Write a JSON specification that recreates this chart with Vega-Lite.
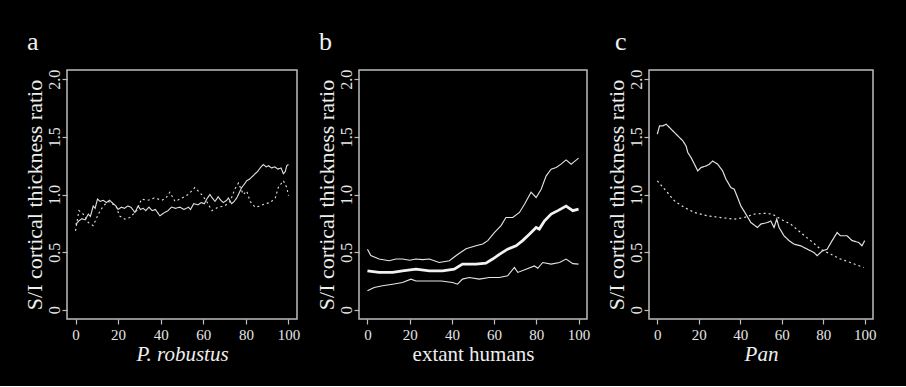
{
 "$schema": "https://vega.github.io/schema/vega-lite/v6.json",
 "background": "#000000",
 "padding": {"left": 22, "top": 28, "right": 31, "bottom": 21},
 "spacing": 62,
 "bounds": "flush",
 "config": {
  "view": {"stroke": "#bdbdbd", "strokeWidth": 1.5},
  "font": "Liberation Serif",
  "axis": {"grid": false, "domain": false, "ticks": true, "tickSize": 5, "tickColor": "#bdbdbd", "tickWidth": 1.2, "labelColor": "#e6e6e6", "titleColor": "#eeeeee", "labelFont": "Liberation Serif", "titleFont": "Liberation Serif", "titleFontWeight": "normal"},
  "axisX": {"labelFontSize": 15, "labelPadding": 3, "labelBaseline": "top", "titleFontSize": 21, "titleBaseline": "alphabetic", "minExtent": 20, "maxExtent": 20, "titlePadding": 21, "labelFlush": false, "labelOverlap": false},
  "axisY": {"labelFontSize": 16, "labelAngle": -90, "labelAlign": "center", "labelBaseline": "alphabetic", "labelPadding": 3, "titleFontSize": 22, "titleBaseline": "alphabetic", "minExtent": 20, "maxExtent": 20, "titlePadding": 6, "labelFlush": false, "labelOverlap": false},
  "title": {"font": "Liberation Serif", "fontSize": 26, "fontWeight": "normal", "color": "#f0f0f0", "anchor": "start", "frame": "bounds", "baseline": "alphabetic", "offset": 14}
 },
 "datasets": {
  "a": [
   {"x":0,"y":0.74,"s":"solid"},{"x":1.5,"y":0.77,"s":"solid"},{"x":3,"y":0.79,"s":"solid"},{"x":4.5,"y":0.78,"s":"solid"},{"x":6,"y":0.83,"s":"solid"},{"x":7,"y":0.81,"s":"solid"},{"x":8.3,"y":0.9,"s":"solid"},{"x":9.2,"y":0.88,"s":"solid"},{"x":10.3,"y":0.96,"s":"solid"},{"x":11.5,"y":0.94,"s":"solid"},{"x":13,"y":0.95,"s":"solid"},{"x":14.5,"y":0.93,"s":"solid"},{"x":16,"y":0.95,"s":"solid"},{"x":17.7,"y":0.92,"s":"solid"},{"x":19,"y":0.9,"s":"solid"},{"x":20,"y":0.87,"s":"solid"},{"x":21.5,"y":0.89,"s":"solid"},{"x":23,"y":0.88,"s":"solid"},{"x":24.5,"y":0.9,"s":"solid"},{"x":26,"y":0.89,"s":"solid"},{"x":27.9,"y":0.845,"s":"solid"},{"x":29.4,"y":0.9,"s":"solid"},{"x":30.5,"y":0.87,"s":"solid"},{"x":31.8,"y":0.88,"s":"solid"},{"x":33,"y":0.86,"s":"solid"},{"x":34.5,"y":0.89,"s":"solid"},{"x":36,"y":0.86,"s":"solid"},{"x":37.5,"y":0.87,"s":"solid"},{"x":39.6,"y":0.815,"s":"solid"},{"x":41.9,"y":0.845,"s":"solid"},{"x":43.5,"y":0.86,"s":"solid"},{"x":45,"y":0.89,"s":"solid"},{"x":47,"y":0.88,"s":"solid"},{"x":49,"y":0.89,"s":"solid"},{"x":51,"y":0.87,"s":"solid"},{"x":53,"y":0.89,"s":"solid"},{"x":54,"y":0.87,"s":"solid"},{"x":55.5,"y":0.92,"s":"solid"},{"x":57.5,"y":0.91,"s":"solid"},{"x":59,"y":0.93,"s":"solid"},{"x":60.5,"y":0.92,"s":"solid"},{"x":61.6,"y":0.96,"s":"solid"},{"x":63.1,"y":1.0,"s":"solid"},{"x":64.2,"y":0.97,"s":"solid"},{"x":65.5,"y":0.94,"s":"solid"},{"x":67,"y":0.98,"s":"solid"},{"x":68.2,"y":0.95,"s":"solid"},{"x":69.4,"y":0.93,"s":"solid"},{"x":71,"y":0.95,"s":"solid"},{"x":71.8,"y":0.97,"s":"solid"},{"x":73.3,"y":0.92,"s":"solid"},{"x":74.5,"y":0.94,"s":"solid"},{"x":75.7,"y":0.97,"s":"solid"},{"x":77,"y":1.02,"s":"solid"},{"x":78,"y":1.06,"s":"solid"},{"x":79.3,"y":1.09,"s":"solid"},{"x":80.4,"y":1.12,"s":"solid"},{"x":81.5,"y":1.13,"s":"solid"},{"x":82.7,"y":1.15,"s":"solid"},{"x":84.3,"y":1.18,"s":"solid"},{"x":85.5,"y":1.2,"s":"solid"},{"x":86.7,"y":1.23,"s":"solid"},{"x":88.2,"y":1.26,"s":"solid"},{"x":89.5,"y":1.24,"s":"solid"},{"x":90.6,"y":1.25,"s":"solid"},{"x":92,"y":1.23,"s":"solid"},{"x":93.5,"y":1.24,"s":"solid"},{"x":95,"y":1.22,"s":"solid"},{"x":96.5,"y":1.23,"s":"solid"},{"x":97.6,"y":1.18,"s":"solid"},{"x":98.5,"y":1.2,"s":"solid"},{"x":99.2,"y":1.25,"s":"solid"},{"x":100,"y":1.26,"s":"solid"},
   {"x":0,"y":0.685,"s":"dotted"},{"x":1.6,"y":0.86,"s":"dotted"},{"x":3.6,"y":0.83,"s":"dotted"},{"x":6,"y":0.757,"s":"dotted"},{"x":8.3,"y":0.73,"s":"dotted"},{"x":10.7,"y":0.83,"s":"dotted"},{"x":13,"y":0.9,"s":"dotted"},{"x":15.4,"y":0.94,"s":"dotted"},{"x":19,"y":0.9,"s":"dotted"},{"x":20.6,"y":0.815,"s":"dotted"},{"x":23.2,"y":0.786,"s":"dotted"},{"x":25.5,"y":0.8,"s":"dotted"},{"x":28.7,"y":0.86,"s":"dotted"},{"x":31,"y":0.96,"s":"dotted"},{"x":34,"y":0.95,"s":"dotted"},{"x":37,"y":0.97,"s":"dotted"},{"x":40.6,"y":0.95,"s":"dotted"},{"x":42.5,"y":0.97,"s":"dotted"},{"x":44.3,"y":1.02,"s":"dotted"},{"x":46.7,"y":0.94,"s":"dotted"},{"x":50,"y":0.97,"s":"dotted"},{"x":53,"y":1.0,"s":"dotted"},{"x":56,"y":1.06,"s":"dotted"},{"x":59.2,"y":1.0,"s":"dotted"},{"x":61.6,"y":0.94,"s":"dotted"},{"x":64,"y":0.86,"s":"dotted"},{"x":67,"y":0.89,"s":"dotted"},{"x":70,"y":0.9,"s":"dotted"},{"x":72.6,"y":0.94,"s":"dotted"},{"x":74.9,"y":1.05,"s":"dotted"},{"x":76.5,"y":1.1,"s":"dotted"},{"x":78.8,"y":1.0,"s":"dotted"},{"x":80.4,"y":1.03,"s":"dotted"},{"x":82,"y":0.94,"s":"dotted"},{"x":84.3,"y":0.89,"s":"dotted"},{"x":86.7,"y":0.9,"s":"dotted"},{"x":89,"y":0.92,"s":"dotted"},{"x":91.4,"y":0.93,"s":"dotted"},{"x":93.8,"y":0.97,"s":"dotted"},{"x":95.2,"y":1.06,"s":"dotted"},{"x":97.6,"y":1.12,"s":"dotted"},{"x":99.2,"y":1.06,"s":"dotted"},{"x":100,"y":0.99,"s":"dotted"}
  ],
  "b": [
   {"x":0,"y":0.526,"s":"upper"},{"x":1.6,"y":0.47,"s":"upper"},{"x":5.5,"y":0.44,"s":"upper"},{"x":10.3,"y":0.425,"s":"upper"},{"x":13.5,"y":0.44,"s":"upper"},{"x":16.6,"y":0.44,"s":"upper"},{"x":20,"y":0.43,"s":"upper"},{"x":23,"y":0.44,"s":"upper"},{"x":26,"y":0.435,"s":"upper"},{"x":29.3,"y":0.44,"s":"upper"},{"x":34,"y":0.41,"s":"upper"},{"x":38.8,"y":0.425,"s":"upper"},{"x":42.7,"y":0.48,"s":"upper"},{"x":46.7,"y":0.53,"s":"upper"},{"x":51.4,"y":0.555,"s":"upper"},{"x":54.6,"y":0.57,"s":"upper"},{"x":57,"y":0.6,"s":"upper"},{"x":60.1,"y":0.67,"s":"upper"},{"x":63.3,"y":0.73,"s":"upper"},{"x":65.6,"y":0.8,"s":"upper"},{"x":68.8,"y":0.8,"s":"upper"},{"x":72,"y":0.844,"s":"upper"},{"x":74.4,"y":0.916,"s":"upper"},{"x":77.5,"y":1.02,"s":"upper"},{"x":79.9,"y":0.974,"s":"upper"},{"x":82.3,"y":1.046,"s":"upper"},{"x":84.6,"y":1.16,"s":"upper"},{"x":87,"y":1.22,"s":"upper"},{"x":89.4,"y":1.234,"s":"upper"},{"x":91.7,"y":1.263,"s":"upper"},{"x":94.1,"y":1.3,"s":"upper"},{"x":96.5,"y":1.263,"s":"upper"},{"x":98,"y":1.285,"s":"upper"},{"x":100,"y":1.315,"s":"upper"},
   {"x":0,"y":0.338,"s":"mean"},{"x":5.5,"y":0.324,"s":"mean"},{"x":11.9,"y":0.324,"s":"mean"},{"x":16.6,"y":0.338,"s":"mean"},{"x":23,"y":0.352,"s":"mean"},{"x":29.3,"y":0.338,"s":"mean"},{"x":35.6,"y":0.338,"s":"mean"},{"x":41.1,"y":0.352,"s":"mean"},{"x":45,"y":0.396,"s":"mean"},{"x":51.4,"y":0.396,"s":"mean"},{"x":56.1,"y":0.405,"s":"mean"},{"x":59.3,"y":0.44,"s":"mean"},{"x":62.5,"y":0.48,"s":"mean"},{"x":66.4,"y":0.526,"s":"mean"},{"x":70.4,"y":0.555,"s":"mean"},{"x":73.5,"y":0.6,"s":"mean"},{"x":76.7,"y":0.656,"s":"mean"},{"x":79.9,"y":0.714,"s":"mean"},{"x":81.4,"y":0.7,"s":"mean"},{"x":83.8,"y":0.77,"s":"mean"},{"x":87,"y":0.83,"s":"mean"},{"x":90.2,"y":0.86,"s":"mean"},{"x":94.1,"y":0.9,"s":"mean"},{"x":97.3,"y":0.86,"s":"mean"},{"x":100,"y":0.873,"s":"mean"},
   {"x":0,"y":0.165,"s":"lower"},{"x":3.2,"y":0.194,"s":"lower"},{"x":7.1,"y":0.208,"s":"lower"},{"x":11.9,"y":0.222,"s":"lower"},{"x":16.6,"y":0.237,"s":"lower"},{"x":20.6,"y":0.266,"s":"lower"},{"x":23,"y":0.25,"s":"lower"},{"x":29.3,"y":0.25,"s":"lower"},{"x":35,"y":0.25,"s":"lower"},{"x":40.3,"y":0.237,"s":"lower"},{"x":42.7,"y":0.222,"s":"lower"},{"x":45,"y":0.266,"s":"lower"},{"x":48.2,"y":0.28,"s":"lower"},{"x":53,"y":0.266,"s":"lower"},{"x":57.7,"y":0.28,"s":"lower"},{"x":62.5,"y":0.28,"s":"lower"},{"x":66.4,"y":0.295,"s":"lower"},{"x":69.6,"y":0.367,"s":"lower"},{"x":71.2,"y":0.324,"s":"lower"},{"x":75.1,"y":0.352,"s":"lower"},{"x":79.1,"y":0.38,"s":"lower"},{"x":80.7,"y":0.36,"s":"lower"},{"x":83,"y":0.41,"s":"lower"},{"x":87,"y":0.396,"s":"lower"},{"x":91,"y":0.41,"s":"lower"},{"x":94.1,"y":0.44,"s":"lower"},{"x":97.3,"y":0.4,"s":"lower"},{"x":100,"y":0.396,"s":"lower"}
  ],
  "c": [
   {"x":0,"y":1.523,"s":"solid"},{"x":1.1,"y":1.596,"s":"solid"},{"x":2.7,"y":1.596,"s":"solid"},{"x":4.3,"y":1.61,"s":"solid"},{"x":6.7,"y":1.566,"s":"solid"},{"x":9.1,"y":1.523,"s":"solid"},{"x":10.7,"y":1.494,"s":"solid"},{"x":12.3,"y":1.466,"s":"solid"},{"x":13.9,"y":1.42,"s":"solid"},{"x":14.7,"y":1.364,"s":"solid"},{"x":16.3,"y":1.32,"s":"solid"},{"x":17.9,"y":1.263,"s":"solid"},{"x":19.5,"y":1.205,"s":"solid"},{"x":21.1,"y":1.234,"s":"solid"},{"x":23.5,"y":1.248,"s":"solid"},{"x":25.1,"y":1.263,"s":"solid"},{"x":26.7,"y":1.29,"s":"solid"},{"x":29.1,"y":1.263,"s":"solid"},{"x":31.5,"y":1.205,"s":"solid"},{"x":33.1,"y":1.133,"s":"solid"},{"x":35.5,"y":1.06,"s":"solid"},{"x":37.1,"y":1.046,"s":"solid"},{"x":38.7,"y":0.974,"s":"solid"},{"x":40.3,"y":0.9,"s":"solid"},{"x":42.7,"y":0.83,"s":"solid"},{"x":45.1,"y":0.757,"s":"solid"},{"x":48.3,"y":0.714,"s":"solid"},{"x":49.9,"y":0.743,"s":"solid"},{"x":53.1,"y":0.757,"s":"solid"},{"x":54.7,"y":0.77,"s":"solid"},{"x":56.3,"y":0.714,"s":"solid"},{"x":57.6,"y":0.786,"s":"solid"},{"x":58.7,"y":0.714,"s":"solid"},{"x":61.1,"y":0.642,"s":"solid"},{"x":63.5,"y":0.6,"s":"solid"},{"x":65.9,"y":0.57,"s":"solid"},{"x":69.1,"y":0.555,"s":"solid"},{"x":72.3,"y":0.526,"s":"solid"},{"x":75.5,"y":0.497,"s":"solid"},{"x":77.1,"y":0.47,"s":"solid"},{"x":79.5,"y":0.51,"s":"solid"},{"x":81.9,"y":0.526,"s":"solid"},{"x":84.3,"y":0.6,"s":"solid"},{"x":86.7,"y":0.67,"s":"solid"},{"x":88.3,"y":0.642,"s":"solid"},{"x":91.5,"y":0.642,"s":"solid"},{"x":93.9,"y":0.6,"s":"solid"},{"x":97.1,"y":0.584,"s":"solid"},{"x":98.7,"y":0.555,"s":"solid"},{"x":100,"y":0.6,"s":"solid"},
   {"x":0,"y":1.118,"s":"dotted"},{"x":3.5,"y":1.046,"s":"dotted"},{"x":8.3,"y":0.945,"s":"dotted"},{"x":13.1,"y":0.887,"s":"dotted"},{"x":17.9,"y":0.844,"s":"dotted"},{"x":24.3,"y":0.815,"s":"dotted"},{"x":30.7,"y":0.8,"s":"dotted"},{"x":37.1,"y":0.786,"s":"dotted"},{"x":41.9,"y":0.8,"s":"dotted"},{"x":46.7,"y":0.83,"s":"dotted"},{"x":51.5,"y":0.837,"s":"dotted"},{"x":55.5,"y":0.83,"s":"dotted"},{"x":59.5,"y":0.786,"s":"dotted"},{"x":64.3,"y":0.743,"s":"dotted"},{"x":69.1,"y":0.67,"s":"dotted"},{"x":73.9,"y":0.6,"s":"dotted"},{"x":78.7,"y":0.526,"s":"dotted"},{"x":83.5,"y":0.483,"s":"dotted"},{"x":88.3,"y":0.44,"s":"dotted"},{"x":93.1,"y":0.41,"s":"dotted"},{"x":99.5,"y":0.367,"s":"dotted"}
  ]
 },
 "hconcat": [
  {
   "width": 230, "height": 249,
   "title": {"text": "a", "dx": 4},
   "data": {"name": "a"},
   "mark": {"type": "line", "color": "#e0e0e0", "strokeWidth": 1.1},
   "encoding": {
    "x": {"field": "x", "type": "quantitative", "scale": {"domain": [-4, 104], "nice": false, "zero": false}, "axis": {"values": [0, 20, 40, 60, 80, 100], "title": "P. robustus", "titleFontStyle": "italic"}},
    "y": {"field": "y", "type": "quantitative", "scale": {"domain": [-0.08, 2.08], "nice": false, "zero": false}, "axis": {"values": [0, 0.5, 1, 1.5, 2], "labelExpr": "datum.value == 0 ? '0' : format(datum.value, '.1f')", "title": "S/I cortical thickness ratio"}},
    "strokeDash": {"field": "s", "type": "nominal", "scale": {"domain": ["solid", "dotted"], "range": [[1, 0], [2, 3]]}, "legend": null}
   }
  },
  {
   "width": 228, "height": 249,
   "title": {"text": "b", "dx": 4},
   "data": {"name": "b"},
   "encoding": {
    "x": {"field": "x", "type": "quantitative", "scale": {"domain": [-4, 104], "nice": false, "zero": false}, "axis": {"values": [0, 20, 40, 60, 80, 100], "title": "extant humans"}},
    "y": {"field": "y", "type": "quantitative", "scale": {"domain": [-0.08, 2.08], "nice": false, "zero": false}, "axis": {"values": [0, 0.5, 1, 1.5, 2], "labelExpr": "datum.value == 0 ? '0' : format(datum.value, '.1f')", "title": "S/I cortical thickness ratio"}},
    "detail": {"field": "s", "type": "nominal"}
   },
   "layer": [
    {"transform": [{"filter": "datum.s != 'mean'"}], "mark": {"type": "line", "color": "#e6e6e6", "strokeWidth": 1.1}},
    {"transform": [{"filter": "datum.s == 'mean'"}], "mark": {"type": "line", "color": "#f2f2f2", "strokeWidth": 2.8}}
   ]
  },
  {
   "width": 224, "height": 249,
   "title": {"text": "c", "dx": 10},
   "data": {"name": "c"},
   "mark": {"type": "line", "color": "#e0e0e0", "strokeWidth": 1.2},
   "encoding": {
    "x": {"field": "x", "type": "quantitative", "scale": {"domain": [-4, 104], "nice": false, "zero": false}, "axis": {"values": [0, 20, 40, 60, 80, 100], "title": "Pan", "titleFontStyle": "italic"}},
    "y": {"field": "y", "type": "quantitative", "scale": {"domain": [-0.08, 2.08], "nice": false, "zero": false}, "axis": {"values": [0, 0.5, 1, 1.5, 2], "labelExpr": "datum.value == 0 ? '0' : format(datum.value, '.1f')", "title": "S/I cortical thickness ratio"}},
    "strokeDash": {"field": "s", "type": "nominal", "scale": {"domain": ["solid", "dotted"], "range": [[1, 0], [2, 3]]}, "legend": null}
   }
  }
 ]
}
